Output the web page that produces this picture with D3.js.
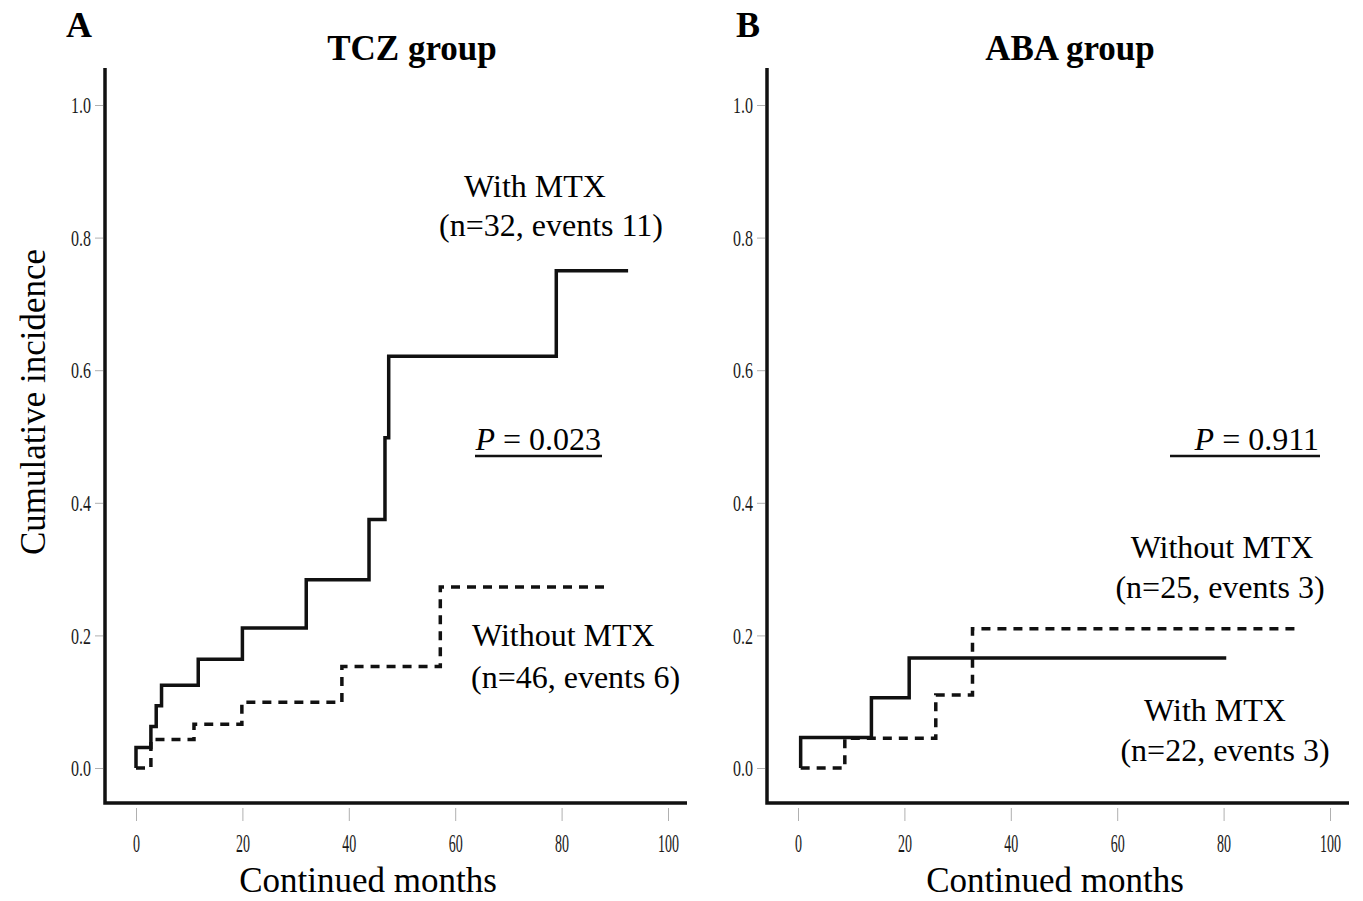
<!DOCTYPE html>
<html>
<head>
<meta charset="utf-8">
<script src="https://cdn.jsdelivr.net/npm/d3@7"></script>
<style>
  body { margin: 0; background: #fff; }
  text { font-family: "Liberation Serif", "Times New Roman", serif; }
</style>
</head>
<body>
<div id="chart"></div>
<script>
// ---- data ----
var xTicks = [0, 20, 40, 60, 80, 100];
var yTicks = [0, 0.2, 0.4, 0.6, 0.8, 1.0];

// TCZ group, [month, cumulative incidence]
var tczWithMTX = [[0, 0], [0, 0.031], [2.8, 0.0625], [3.8, 0.094], [4.8, 0.125], [11.7, 0.164],
  [20, 0.211], [32, 0.284], [43.8, 0.375], [46.8, 0.498], [47.5, 0.621], [79, 0.75], [92.5, 0.75]];
var tczWithoutMTX = [[0, 0], [2.8, 0.043], [10.9, 0.066], [19.9, 0.099], [38.7, 0.153],
  [57.2, 0.273], [89.2, 0.273]];

// ABA group
var abaWithMTX = [[0.5, 0], [0.5, 0.046], [13.8, 0.106], [20.9, 0.166], [80.5, 0.166]];
var abaWithoutMTX = [[0.5, 0], [8.8, 0.045], [25.9, 0.11], [32.8, 0.21], [93.5, 0.21]];

var width = 1363, height = 901;

var svg = d3.select("#chart")
  .append("svg")
  .attr("width", width)
  .attr("height", height);

var black = "#111";

function drawPanel(p) {
  // scales: 5.32 px per month, 663 px per unit incidence
  var x = d3.scaleLinear().domain([0, 100]).range([p.x0, p.x0 + 532]);
  var y = d3.scaleLinear().domain([0, 1]).range([768, 105]);

  var axisX = p.x0 - 31, axisY = 803, axisRight = p.x0 + 551, axisTop = 68;

  // ticks + labels (narrow glyphs like the original)
  var gx = svg.append("g")
    .attr("transform", "translate(0," + (axisY + 5) + ")")
    .call(d3.axisBottom(x).tickValues(xTicks).tickSize(13).tickPadding(13).tickFormat(d3.format("d")));
  gx.select(".domain").remove();
  gx.selectAll("line").attr("stroke", "#b0b0b0");
  gx.selectAll("text")
    .attr("fill", "#1a1a1a")
    .style("font-size", "25px")
    .attr("textLength", function(d) { return String(d).length * 7; })
    .attr("lengthAdjust", "spacingAndGlyphs");

  var gy = svg.append("g")
    .attr("transform", "translate(" + (axisX - 2) + ",0)")
    .call(d3.axisLeft(y).tickValues(yTicks).tickSize(8).tickPadding(4).tickFormat(d3.format(".1f")));
  gy.select(".domain").remove();
  gy.selectAll("line").attr("stroke", "#b0b0b0");
  gy.selectAll("text")
    .attr("fill", "#1a1a1a")
    .style("font-size", "24px")
    .attr("textLength", 20)
    .attr("lengthAdjust", "spacingAndGlyphs");

  // L-shaped frame
  svg.append("path")
    .attr("d", "M" + axisX + "," + axisTop + "V" + axisY + "H" + axisRight)
    .attr("fill", "none")
    .attr("stroke", black)
    .attr("stroke-width", 3.5);

  var line = d3.line()
    .x(function(d) { return x(d[0]); })
    .y(function(d) { return y(d[1]); })
    .curve(d3.curveStepAfter);

  svg.append("path")
    .datum(p.dashed)
    .attr("d", line)
    .attr("fill", "none")
    .attr("stroke", black)
    .attr("stroke-width", 3.5)
    .attr("stroke-dasharray", "9,7");

  svg.append("path")
    .datum(p.solid)
    .attr("d", line)
    .attr("fill", "none")
    .attr("stroke", black)
    .attr("stroke-width", 3.5);

  // panel letter and title
  svg.append("text")
    .attr("x", p.letterX).attr("y", 37)
    .text(p.letter)
    .style("font-size", "36px").style("font-weight", "bold");
  svg.append("text")
    .attr("x", p.titleX).attr("y", 60)
    .attr("text-anchor", "middle")
    .text(p.title)
    .style("font-size", "35px").style("font-weight", "bold");

  // x label
  svg.append("text")
    .attr("x", p.xLabelX).attr("y", 892)
    .attr("text-anchor", "middle")
    .text("Continued months")
    .style("font-size", "35px");

  // annotations
  p.notes.forEach(function(n) {
    svg.append("text")
      .attr("x", n[0]).attr("y", n[1])
      .attr("text-anchor", n[3] || "start")
      .text(n[2])
      .style("font-size", "32px");
  });

  // P value, underlined
  var pt = svg.append("text")
    .attr("x", p.pX).attr("y", 450)
    .attr("text-anchor", "end")
    .style("font-size", "32px");
  pt.append("tspan").style("font-style", "italic").text("P");
  pt.append("tspan").text(" = " + p.pValue);
  svg.append("line")
    .attr("x1", p.pLine[0]).attr("x2", p.pLine[1])
    .attr("y1", 456).attr("y2", 456)
    .attr("stroke", black)
    .attr("stroke-width", 2.5);
}

drawPanel({
  x0: 136, letter: "A", letterX: 66, title: "TCZ group", titleX: 412, xLabelX: 368,
  solid: tczWithMTX, dashed: tczWithoutMTX,
  pValue: "0.023", pX: 601, pLine: [475, 602],
  notes: [[535, 197, "With MTX", "middle"], [551, 236, "(n=32, events 11)", "middle"],
          [472, 646, "Without MTX"], [471, 688, "(n=46, events 6)"]]
});

drawPanel({
  x0: 798, letter: "B", letterX: 736, title: "ABA group", titleX: 1070, xLabelX: 1055,
  solid: abaWithMTX, dashed: abaWithoutMTX,
  pValue: "0.911", pX: 1319, pLine: [1170, 1320],
  notes: [[1222, 558, "Without MTX", "middle"], [1220, 598, "(n=25, events 3)", "middle"],
          [1215, 721, "With MTX", "middle"], [1225, 761, "(n=22, events 3)", "middle"]]
});

// shared y label
svg.append("text")
  .attr("transform", "translate(45,402) rotate(-90)")
  .attr("text-anchor", "middle")
  .text("Cumulative incidence")
  .style("font-size", "35px");
</script>
</body>
</html>
